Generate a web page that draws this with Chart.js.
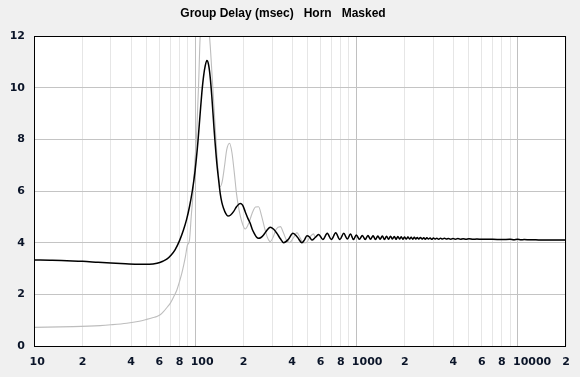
<!DOCTYPE html>
<html>
<head>
<meta charset="utf-8">
<script src="https://cdn.jsdelivr.net/npm/chart.js@4/dist/chart.umd.min.js"></script>
<style>
  html, body { margin: 0; padding: 0; background: #f0f0f0; overflow: hidden; }
  #wrap { width: 580px; height: 377px; }
</style>
</head>
<body>
<div id="wrap"><canvas id="c" width="580" height="377"></canvas></div>
<script>
// ---------- DATA ----------
const titleText = 'Group Delay (msec)   Horn   Masked';

// Black curve (Horn)
const freqBlack = [
  10, 13, 16, 20, 25, 30, 37, 45, 52, 58, 63, 67, 71, 75, 80, 84.6, 88.5, 92.2, 96, 100,
  104, 107.4, 110, 112.7, 115.5, 118.2, 121, 124, 126.9, 131, 136.3, 140, 143, 146.5, 150,
  155, 159.6, 166, 173, 181, 190.3, 197, 204.4, 212, 219.6, 226, 232.6, 240, 247.4, 256,
  265.7, 279, 292.3, 307, 321.6, 338, 353.7, 378, 404.3, 430, 459.8, 476, 493.9, 512, 530.4,
  556, 583.4, 620, 660, 700, 745, 790, 835, 880, 920, 960, 1000, 1045, 1090, 1135, 1180,
  1225, 1270, 1315, 1360, 1405, 1450, 1495, 1540, 1585, 1630, 1675, 1720, 1765, 1810, 1855,
  1900, 1945, 1990, 2040, 2090, 2140, 2190, 2240, 2290, 2340, 2390, 2440, 2500, 2560, 2620,
  2680, 2740, 2800, 2870, 2940, 3010, 3080, 3160, 3240, 3330, 3420, 3520, 3620, 3730, 3850,
  3980, 4120, 4270, 4430, 4600, 4800, 5000, 5300, 5600, 6000, 6500, 7000, 8000, 9000, 9500,
  10000, 10500, 11000, 12000, 13000, 14000, 16000, 18000, 20000
];
const delayBlack = [
  3.33, 3.32, 3.30, 3.28, 3.24, 3.21, 3.18, 3.16, 3.16, 3.20, 3.28, 3.37, 3.52, 3.72, 4.08, 4.49, 4.90, 5.39, 6.00, 6.81,
  7.90, 9.00, 9.80, 10.43, 10.85, 11.05, 10.90, 10.40, 9.65, 8.40, 7.07, 6.40, 5.91, 5.55, 5.33,
  5.12, 5.03, 5.07, 5.20, 5.40, 5.52, 5.45, 5.20, 4.95, 4.75, 4.52, 4.36, 4.22, 4.17, 4.20,
  4.30, 4.48, 4.60, 4.52, 4.36, 4.15, 4.00, 4.12, 4.36, 4.22, 4.00, 4.10, 4.27, 4.22, 4.10,
  4.20, 4.32, 4.12, 4.36, 4.12, 4.38, 4.12, 4.36, 4.14, 4.34, 4.12, 4.30, 4.13, 4.28, 4.12, 4.28,
  4.13, 4.27, 4.12, 4.26, 4.13, 4.26, 4.12, 4.25, 4.13, 4.25, 4.14, 4.24, 4.13, 4.24, 4.14,
  4.23, 4.13, 4.22, 4.14, 4.22, 4.14, 4.21, 4.13, 4.21, 4.14, 4.20, 4.14, 4.20, 4.14, 4.19,
  4.13, 4.19, 4.14, 4.18, 4.13, 4.18, 4.14, 4.17, 4.13, 4.17, 4.14, 4.17, 4.14, 4.16, 4.13,
  4.16, 4.13, 4.16, 4.13, 4.15, 4.13, 4.15, 4.13, 4.14, 4.13, 4.13, 4.13, 4.12, 4.13, 4.11,
  4.13, 4.11, 4.12, 4.11, 4.11, 4.10, 4.10, 4.10, 4.10
];

// Grey curve (Masked) – low-frequency part; above ~550 Hz it lies under the black curve
const freqGrey = [
  10, 17.5, 25.7, 30, 37.6, 45, 50, 55, 57.8, 61, 63.6, 67, 70, 73.5, 77, 80, 82.6, 85, 87,
  89.5, 92.2, 94.5, 96.7, 99.5, 102.4, 105, 107.4, 110, 114, 118, 122.7, 127, 131, 135.5,
  139.5, 143, 147, 152, 157, 163.4, 169, 175, 180.5, 186.2, 195, 204.4, 215, 226, 237,
  247.4, 258, 270, 281, 292, 305, 318, 338, 352, 367, 385, 408, 428, 447, 468, 489, 515, 543
];
const delayGrey = [
  0.72, 0.75, 0.79, 0.82, 0.88, 0.96, 1.03, 1.10, 1.14, 1.22, 1.33, 1.50, 1.65, 1.90, 2.17, 2.50, 2.81, 3.15, 3.46,
  3.90, 4.10, 5.00, 5.78, 7.10, 8.36, 10.10, 11.97, 12.60, 12.90, 12.70, 12.00, 10.60, 9.20, 7.70,
  6.60, 6.17, 6.35, 6.95, 7.60, 7.85, 7.50, 6.70, 5.90, 5.35, 4.80, 4.53, 4.75, 5.15, 5.38,
  5.39, 5.05, 4.55, 4.20, 4.04, 4.22, 4.52, 4.62, 4.40, 4.12, 4.00, 4.20, 4.39, 4.20, 4.00, 4.00, 4.22, 4.34
];

// Axis ticks
const xTickValues = [
  10, 20, 30, 40, 50, 60, 70, 80, 90,
  100, 200, 300, 400, 500, 600, 700, 800, 900,
  1000, 2000, 3000, 4000, 5000, 6000, 7000, 8000, 9000,
  10000, 20000
];
const xTickLabels = [
  '10', '2', '', '4', '', '6', '', '8', '',
  '100', '2', '', '4', '', '6', '', '8', '',
  '1000', '2', '', '4', '', '6', '', '8', '',
  '10000', '2'
];
const yMin = 0, yMax = 12, yStep = 2;

// ---------- BUILD ----------
const blackPts = freqBlack.map((f, i) => ({ x: f, y: delayBlack[i] }));
const greyLast = freqGrey[freqGrey.length - 1];
const greyPts = freqGrey.map((f, i) => ({ x: f, y: delayGrey[i] }))
  .concat(blackPts.filter(p => p.x > greyLast));

const decades = new Set([10, 100, 1000, 10000]);

const framePlugin = {
  id: 'frame',
  beforeDraw(chart) {
    const { ctx, chartArea: a } = chart;
    ctx.save();
    ctx.fillStyle = '#f0f0f0';
    ctx.fillRect(0, 0, chart.width, chart.height);
    ctx.fillStyle = '#ffffff';
    ctx.fillRect(a.left, a.top, a.right - a.left, a.bottom - a.top);
    ctx.restore();
    // decade labels: first digit sits on the tick
    const xs = chart.scales.x;
    const items = xs.getLabelItems(a);
    items.forEach(it => {
      const lbl = Array.isArray(it.label) ? it.label.join('') : String(it.label);
      if (lbl.length > 1) {
        it.options.textAlign = 'left';
        it.options.translation[0] -= 4.5;
      }
    });
  },
  afterDraw(chart) {
    const { ctx, chartArea: a } = chart;
    ctx.save();
    ctx.strokeStyle = '#000000';
    ctx.lineWidth = 1;
    ctx.strokeRect(a.left + 0.5, a.top + 0.5, a.right - a.left - 1, a.bottom - a.top);
    ctx.restore();
  }
};

const labelFont = { family: '"DejaVu Sans", sans-serif', size: 11, weight: 'bold' };
const labelColor = '#0a1428';

new Chart(document.getElementById('c'), {
  type: 'line',
  data: {
    datasets: [
      {
        label: 'Horn',
        data: blackPts,
        borderColor: '#000000',
        borderWidth: 1.5,
        pointRadius: 0,
        cubicInterpolationMode: 'monotone',
        fill: false
      },
      {
        label: 'Masked',
        data: greyPts,
        borderColor: '#bdbdbd',
        borderWidth: 1.1,
        pointRadius: 0,
        cubicInterpolationMode: 'monotone',
        fill: false
      }
    ]
  },
  options: {
    responsive: false,
    animation: false,
    devicePixelRatio: 1,
    layout: { padding: { left: 0, right: 14, top: 0, bottom: 0 } },
    plugins: {
      legend: { display: false },
      tooltip: { enabled: false },
      title: {
        display: true,
        text: titleText,
        color: '#000000',
        font: { family: '"Liberation Sans", Arial, sans-serif', size: 12, weight: 'bold', lineHeight: 1.2 },
        padding: { top: 6, bottom: 15.6 }
      }
    },
    scales: {
      x: {
        type: 'logarithmic',
        min: 10,
        max: 20000,
        afterBuildTicks: (scale) => { scale.ticks = xTickValues.map(v => ({ value: v })); },
        afterFit: (scale) => { scale.height = 31; },
        grid: {
          drawTicks: false,
          color: (ctx) => (ctx.tick && decades.has(ctx.tick.value)) ? '#c0c0c0' : '#e6e6e6',
          lineWidth: 1
        },
        border: { display: false },
        ticks: {
          autoSkip: false,
          maxRotation: 0,
          minRotation: 0,
          padding: 10,
          color: labelColor,
          font: labelFont,
          callback: (value, index) => xTickLabels[index]
        }
      },
      y: {
        type: 'linear',
        min: yMin,
        max: yMax,
        afterFit: (scale) => { scale.width = 34; },
        grid: { drawTicks: false, color: '#c4c4c4', lineWidth: 1 },
        border: { display: false },
        ticks: {
          stepSize: yStep,
          padding: 9,
          color: labelColor,
          font: labelFont
        }
      }
    }
  },
  plugins: [framePlugin]
});
</script>
</body>
</html>
